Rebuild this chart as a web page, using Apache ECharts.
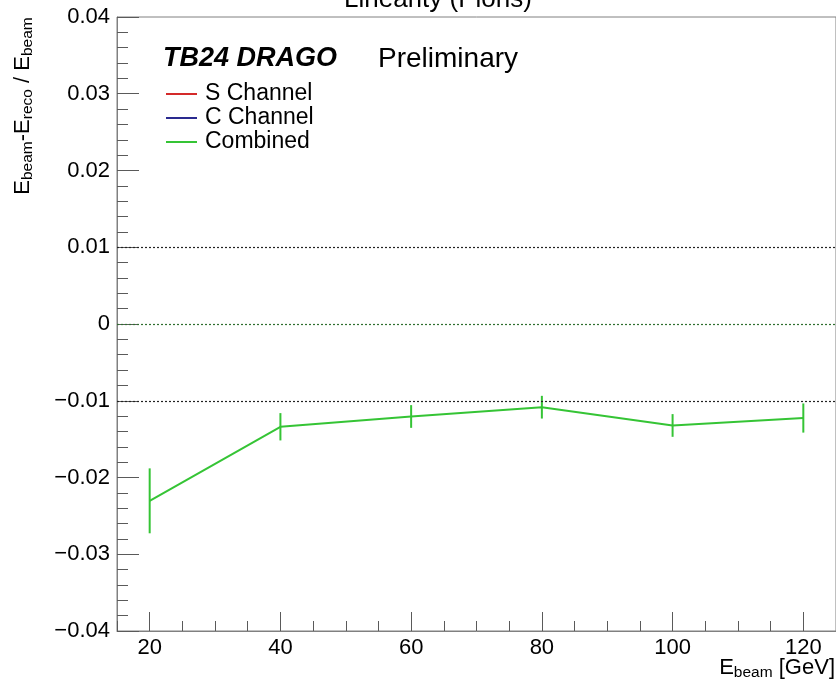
<!DOCTYPE html>
<html>
<head>
<meta charset="utf-8">
<script src="https://cdn.jsdelivr.net/npm/echarts@6/dist/echarts.min.js"></script>
<style>
  html, body { margin: 0; padding: 0; background: #fff; }
  #chart { width: 836px; height: 685px; }
</style>
</head>
<body>
<div id="chart"></div>
<script>
// Beam energies [GeV] and relative linearity residuals (E_beam - E_reco) / E_beam
const energies = [20, 40, 60, 80, 100, 120];
const combined = [-0.02304, -0.01339, -0.01205, -0.01084, -0.01322, -0.01225];
const combinedErr = [0.00423, 0.00178, 0.00148, 0.00148, 0.00148, 0.0019];
// S and C channel graphs are listed in the legend only
const sChannel = [];
const cChannel = [];

// Axis ticks and labels
const xMajorTicks = [20, 40, 60, 80, 100, 120];
const yTickValues = [-0.04, -0.03, -0.02, -0.01, 0, 0.01, 0.02, 0.03, 0.04];
const yTickLabels = ['\u22120.04', '\u22120.03', '\u22120.02', '\u22120.01', '0', '0.01', '0.02', '0.03', '0.04'];

// Dotted reference levels
const refLevels = [0.01, 0, -0.01];
const refColors = ['#222222', '#2f6f2f', '#222222'];

const FONT = '"Liberation Sans", Arial, Helvetica, sans-serif';
const GREEN = '#35c435';
const AXIS_GRAY = '#808080';
const TICK_GRAY = '#5a5a5a';

const chart = echarts.init(document.getElementById('chart'), null, { renderer: 'canvas' });

const combinedPoints = energies.map((e, i) => [e, combined[i]]);
const errorData = energies.map((e, i) => [e, combined[i] - combinedErr[i], combined[i] + combinedErr[i]]);

const option = {
  backgroundColor: '#ffffff',
  animation: false,
  textStyle: { fontFamily: FONT },
  grid: {
    left: 117, right: -1, top: 17, bottom: 54,
    show: true, borderColor: AXIS_GRAY, borderWidth: 1, backgroundColor: 'transparent'
  },
  legend: {
    orient: 'vertical',
    left: 166, top: 82,
    padding: 0,
    itemGap: 0,
    itemWidth: 31, itemHeight: 2,
    icon: 'rect',
    selectedMode: false,
    textStyle: { fontSize: 23, lineHeight: 24, color: '#000', fontFamily: FONT, padding: [0, 0, 0, 3] },
    data: ['S Channel', 'C Channel', 'Combined']
  },
  xAxis: [
    {
      type: 'value', min: 15, max: 125, interval: 5,
      position: 'bottom',
      axisLine: { show: true, onZero: false, lineStyle: { color: AXIS_GRAY, width: 1 } },
      axisTick: { show: true, inside: true, length: 10, lineStyle: { color: TICK_GRAY, width: 1 } },
      axisLabel: { show: false },
      splitLine: { show: false }
    },
    {
      type: 'value', min: 15, max: 125,
      position: 'bottom',
      axisLine: { show: false, onZero: false },
      axisTick: { show: true, inside: true, length: 19, customValues: xMajorTicks,
                  lineStyle: { color: TICK_GRAY, width: 1 } },
      axisLabel: { show: true, customValues: xMajorTicks, margin: 6,
                   fontSize: 22, color: '#000', fontFamily: FONT },
      splitLine: { show: false }
    }
  ],
  yAxis: {
    type: 'value', min: -0.04, max: 0.04, interval: 0.01,
    axisLine: { show: true, onZero: false, lineStyle: { color: AXIS_GRAY, width: 1 } },
    axisTick: { show: true, inside: true, length: 22, lineStyle: { color: TICK_GRAY, width: 1 } },
    minorTick: { show: true, splitNumber: 5, length: 11, lineStyle: { color: TICK_GRAY, width: 1 } },
    axisLabel: {
      margin: 7, fontSize: 22, color: '#000', fontFamily: FONT,
      formatter: function (v) {
        for (let i = 0; i < yTickValues.length; i++) {
          if (Math.abs(yTickValues[i] - v) < 1e-9) return yTickLabels[i];
        }
        return '';
      }
    },
    splitLine: { show: false }
  },
  series: [
    { name: 'S Channel', type: 'line', data: sChannel, color: '#d42a2a',
      lineStyle: { color: '#d42a2a', width: 2 }, showSymbol: false },
    { name: 'C Channel', type: 'line', data: cChannel, color: '#2a2a8f',
      lineStyle: { color: '#2a2a8f', width: 2 }, showSymbol: false },
    {
      name: 'Combined', type: 'line', data: combinedPoints, color: GREEN,
      lineStyle: { color: GREEN, width: 2 }, showSymbol: false, symbol: 'none',
      silent: true, z: 3,
      markLine: {
        silent: true, symbol: 'none', animation: false,
        label: { show: false },
        data: refLevels.map((v, i) => ({
          yAxis: v,
          lineStyle: { color: refColors[i], type: [2, 2], width: 1.2 }
        }))
      }
    },
    {
      name: 'Combined errors', type: 'custom', data: errorData, silent: true, z: 4,
      renderItem: function (params, api) {
        const x = api.value(0);
        const lo = api.coord([x, api.value(1)]);
        const hi = api.coord([x, api.value(2)]);
        return {
          type: 'line',
          shape: { x1: lo[0], y1: lo[1], x2: hi[0], y2: hi[1] },
          style: { stroke: GREEN, lineWidth: 2 }
        };
      }
    }
  ],
  graphic: [
    {
      type: 'text', x: 438, y: 0,
      style: { text: 'Linearity (Pions)', fontSize: 26, fontFamily: FONT, fill: '#000',
               align: 'center', verticalAlign: 'middle' }
    },
    {
      type: 'text', x: 163, y: 59,
      style: { text: 'TB24 DRAGO', fontSize: 27, fontWeight: 'bold', fontStyle: 'italic',
               fontFamily: FONT, fill: '#000', align: 'left', verticalAlign: 'middle' }
    },
    {
      type: 'text', x: 378, y: 59,
      style: { text: 'Preliminary', fontSize: 28, fontFamily: FONT, fill: '#000',
               align: 'left', verticalAlign: 'middle' }
    },
    {
      type: 'text', x: 835, y: 657,
      style: {
        text: '{m|E}{s|beam}{m| [GeV]}',
        align: 'right', verticalAlign: 'top',
        rich: {
          m: { fontSize: 22, lineHeight: 24, verticalAlign: 'top', fontFamily: FONT, fill: '#000' },
          s: { fontSize: 15.5, lineHeight: 16, verticalAlign: 'bottom', fontFamily: FONT, fill: '#000' }
        }
      }
    },
    {
      type: 'text', x: 12, y: 106, rotation: Math.PI / 2,
      style: {
        text: '{m|E}{s|beam}{m|-E}{s|reco}{m| / E}{s|beam}',
        align: 'center', verticalAlign: 'top',
        rich: {
          m: { fontSize: 22, lineHeight: 24, verticalAlign: 'top', fontFamily: FONT, fill: '#000' },
          s: { fontSize: 15.5, lineHeight: 16, verticalAlign: 'bottom', fontFamily: FONT, fill: '#000' }
        }
      }
    }
  ]
};

chart.setOption(option);
</script>
</body>
</html>
